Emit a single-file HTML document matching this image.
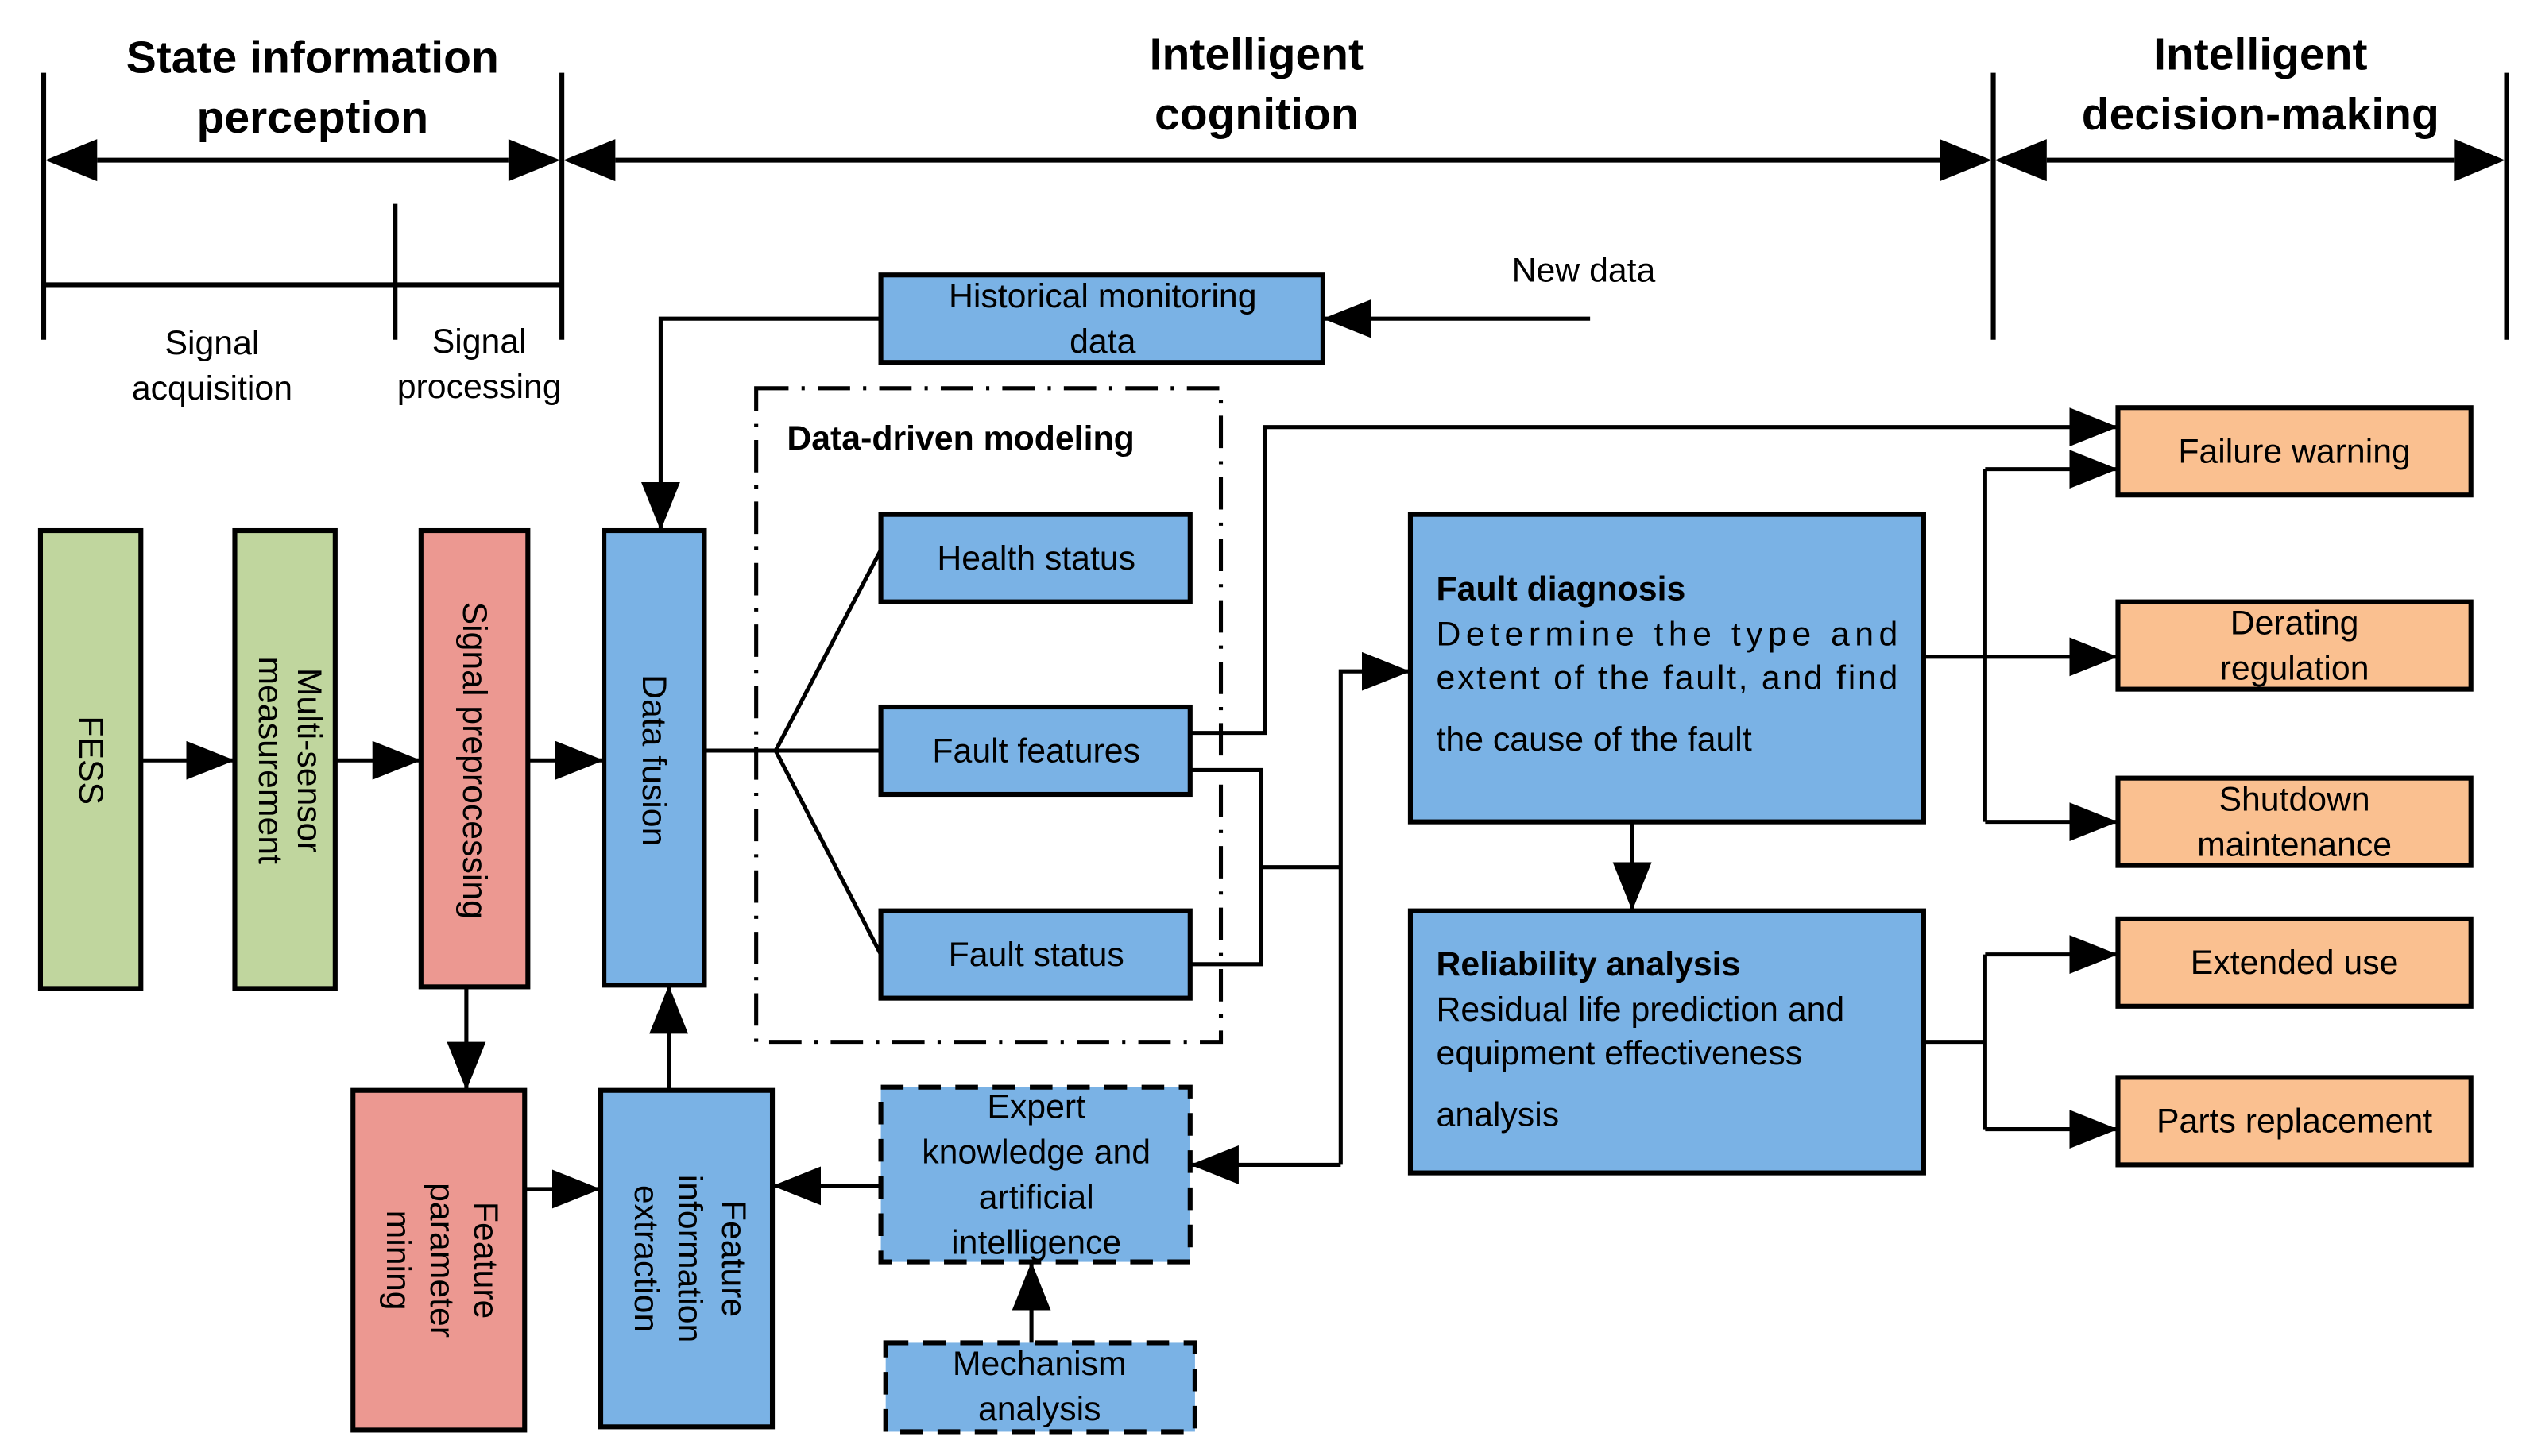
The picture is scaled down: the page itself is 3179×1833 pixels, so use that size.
<!DOCTYPE html>
<html><head><meta charset="utf-8"><style>
html,body{margin:0;padding:0;background:#fff;}
svg{display:block;}
text{font-family:"Liberation Sans",Arial,sans-serif;fill:#000;}
</style></head><body>
<svg width="3179" height="1833" viewBox="0 0 1560 900" preserveAspectRatio="none" xmlns="http://www.w3.org/2000/svg">
<defs>
<marker id="a" viewBox="0 0 30 24" refX="30" refY="12" markerWidth="30" markerHeight="24" markerUnits="userSpaceOnUse" orient="auto">
<path d="M0,0 L30,12 L0,24 Z" fill="#000"/></marker>
</defs>
<g stroke="#000" stroke-width="3" fill="none">
<!-- top scale -->
<line x1="27" y1="45" x2="27" y2="210"/>
<line x1="347" y1="45" x2="347" y2="210"/>
<line x1="1231" y1="45" x2="1231" y2="210"/>
<line x1="1548" y1="45" x2="1548" y2="210"/>
<line x1="244" y1="126" x2="244" y2="210"/>
<line x1="27" y1="176" x2="347" y2="176"/>
<line x1="60" y1="99" x2="314" y2="99"/>
<line x1="380" y1="99" x2="1198" y2="99"/>
<line x1="1264" y1="99" x2="1516" y2="99"/>
</g>
<g fill="#000">
<path d="M28,99 L60,86 L60,112Z"/><path d="M346,99 L314,86 L314,112Z"/>
<path d="M348,99 L380,86 L380,112Z"/><path d="M1230,99 L1198,86 L1198,112Z"/>
<path d="M1232,99 L1264,86 L1264,112Z"/><path d="M1547,99 L1516,86 L1516,112Z"/>
</g>
<g font-weight="bold" font-size="28" text-anchor="middle">
<text x="193" y="45">State information</text><text x="193" y="82">perception</text>
<text x="776" y="43">Intelligent</text><text x="776" y="80">cognition</text>
<text x="1396" y="43">Intelligent</text><text x="1396" y="80">decision-making</text>
</g>
<g font-size="21" text-anchor="middle">
<text x="131" y="219">Signal</text><text x="131" y="247">acquisition</text>
<text x="296" y="218">Signal</text><text x="296" y="246">processing</text>
<text x="978" y="174">New data</text>
</g>

<!-- boxes -->
<g stroke="#000" stroke-width="3">
<rect x="25" y="328" width="62" height="283" fill="#c0d69e"/>
<rect x="145" y="328" width="62" height="283" fill="#c0d69e"/>
<rect x="260" y="328" width="66" height="282" fill="#ec9891"/>
<rect x="373" y="328" width="62" height="281" fill="#7ab2e5"/>
<rect x="218" y="674" width="106" height="210" fill="#ec9891"/>
<rect x="371" y="674" width="106" height="208" fill="#7ab2e5"/>
<rect x="544" y="170" width="273" height="54" fill="#7ab2e5"/>
<rect x="544" y="318" width="191" height="54" fill="#7ab2e5"/>
<rect x="544" y="437" width="191" height="54" fill="#7ab2e5"/>
<rect x="544" y="563" width="191" height="54" fill="#7ab2e5"/>
<rect x="871" y="318" width="317" height="190" fill="#7ab2e5"/>
<rect x="871" y="563" width="317" height="162" fill="#7ab2e5"/>
<rect x="1308" y="252" width="218" height="54" fill="#fac090"/>
<rect x="1308" y="372" width="218" height="54" fill="#fac090"/>
<rect x="1308" y="481" width="218" height="54" fill="#fac090"/>
<rect x="1308" y="568" width="218" height="54" fill="#fac090"/>
<rect x="1308" y="666" width="218" height="54" fill="#fac090"/>
<rect x="544" y="672" width="191" height="108" fill="#7ab2e5" stroke-dasharray="14,9"/>
<rect x="547" y="830" width="191" height="55" fill="#7ab2e5" stroke-dasharray="14,9"/>
<rect x="467" y="240" width="287" height="404" fill="none" stroke-width="2.5" stroke-dasharray="20,8,2,8"/>
</g>

<!-- connectors -->
<g stroke="#000" stroke-width="2.5" fill="none">
<line x1="87" y1="470" x2="145" y2="470" marker-end="url(#a)"/>
<line x1="207" y1="470" x2="260" y2="470" marker-end="url(#a)"/>
<line x1="326" y1="470" x2="373" y2="470" marker-end="url(#a)"/>
<line x1="288" y1="610" x2="288" y2="674" marker-end="url(#a)"/>
<line x1="324" y1="735" x2="371" y2="735" marker-end="url(#a)"/>
<line x1="413" y1="674" x2="413" y2="609" marker-end="url(#a)"/>
<line x1="544" y1="733" x2="477" y2="733" marker-end="url(#a)"/>
<line x1="637" y1="830" x2="637" y2="780" marker-end="url(#a)"/>
<polyline points="544,197 408,197 408,328" marker-end="url(#a)"/>
<line x1="982" y1="197" x2="817" y2="197" marker-end="url(#a)"/>
<line x1="435" y1="464" x2="479" y2="464"/>
<line x1="479" y1="464" x2="544" y2="340"/>
<line x1="479" y1="464" x2="544" y2="464"/>
<line x1="479" y1="464" x2="544" y2="590"/>
<polyline points="735,453 781,453 781,264 1308,264" marker-end="url(#a)"/>
<polyline points="735,476 779,476 779,596 735,596"/>
<line x1="779" y1="536" x2="828" y2="536"/>
<polyline points="828,720 828,415 871,415" marker-end="url(#a)"/>
<line x1="828" y1="720" x2="735" y2="720" marker-end="url(#a)"/>
<line x1="1008" y1="508" x2="1008" y2="563" marker-end="url(#a)"/>
<line x1="1188" y1="406" x2="1308" y2="406" marker-end="url(#a)"/>
<line x1="1226" y1="290" x2="1226" y2="508"/>
<line x1="1226" y1="290" x2="1308" y2="290" marker-end="url(#a)"/>
<line x1="1226" y1="508" x2="1308" y2="508" marker-end="url(#a)"/>
<line x1="1188" y1="644" x2="1226" y2="644"/>
<line x1="1226" y1="590" x2="1226" y2="698"/>
<line x1="1226" y1="590" x2="1308" y2="590" marker-end="url(#a)"/>
<line x1="1226" y1="698" x2="1308" y2="698" marker-end="url(#a)"/>
</g>

<!-- box labels -->
<g font-size="21" text-anchor="middle">
<text transform="translate(49,470) rotate(90)">FESS</text>
<text transform="translate(184,470) rotate(90)">Multi-sensor</text>
<text transform="translate(160,470) rotate(90)">measurement</text>
<text transform="translate(286,470) rotate(90)">Signal preprocessing</text>
<text transform="translate(397,470) rotate(90)">Data fusion</text>
<text transform="translate(293,779) rotate(90)">Feature</text>
<text transform="translate(266,779) rotate(90)">parameter</text>
<text transform="translate(239,779) rotate(90)">mining</text>
<text transform="translate(446,778) rotate(90)">Feature</text>
<text transform="translate(419,778) rotate(90)">information</text>
<text transform="translate(392,778) rotate(90)">extraction</text>
<text x="681" y="190">Historical monitoring</text><text x="681" y="218">data</text>
<text x="640" y="352">Health status</text>
<text x="640" y="471">Fault features</text>
<text x="640" y="597">Fault status</text>
<text x="640" y="691">Expert</text><text x="640" y="719">knowledge and</text>
<text x="640" y="747">artificial</text><text x="640" y="775">intelligence</text>
<text x="642" y="850">Mechanism</text><text x="642" y="878">analysis</text>
<text x="1417" y="286">Failure warning</text>
<text x="1417" y="392">Derating</text><text x="1417" y="420">regulation</text>
<text x="1417" y="501">Shutdown</text><text x="1417" y="529">maintenance</text>
<text x="1417" y="602">Extended use</text>
<text x="1417" y="700">Parts replacement</text>
</g>
<text x="486" y="278" font-size="21" font-weight="bold">Data-driven modeling</text>
<g font-size="21">
<text x="887" y="371" font-weight="bold">Fault diagnosis</text>
<text x="887" y="399" textLength="285" lengthAdjust="spacing">Determine the type and</text>
<text x="887" y="426" textLength="285" lengthAdjust="spacing">extent of the fault, and find</text>
<text x="887" y="464">the cause of the fault</text>
<text x="887" y="603" font-weight="bold">Reliability analysis</text>
<text x="887" y="631">Residual life prediction and</text>
<text x="887" y="658">equipment effectiveness</text>
<text x="887" y="696">analysis</text>
</g>
</svg>
</body></html>
